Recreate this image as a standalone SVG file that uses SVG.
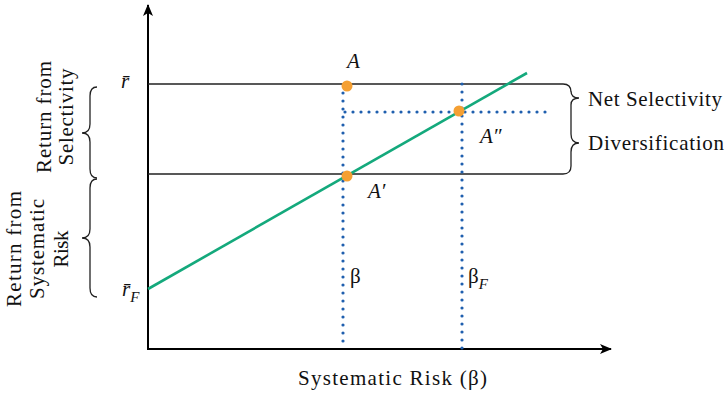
<svg xmlns="http://www.w3.org/2000/svg" width="727" height="395" viewBox="0 0 727 395">
<style>
text{font-family:"Liberation Serif","Times New Roman",serif;font-size:21px;fill:#111}
.it{font-style:italic}
.thin{stroke:#222;stroke-width:1.3;fill:none}
.dot{stroke:#1f5fae;stroke-width:3.2;stroke-linecap:round;stroke-dasharray:0 8;fill:none}
.pt{fill:#f5a033}
.br{stroke:#222;stroke-width:1.3;fill:none}
</style>
<defs>
<marker id="ah" markerWidth="12" markerHeight="10" refX="11" refY="5" orient="auto" markerUnits="userSpaceOnUse">
<path d="M0,0 L12,5 L0,10 L3,5 Z" fill="#000"/>
</marker>
</defs>
<g id="connectors">
<line x1="148" y1="350" x2="148" y2="5" stroke="#000" stroke-width="2" marker-end="url(#ah)"/>
<line x1="147" y1="349" x2="611" y2="349" stroke="#000" stroke-width="2" marker-end="url(#ah)"/>
<path class="thin" d="M148,84 H563 Q571,84 571,92 V91 Q571,98 579,98 Q571,98 571,105 V104 Q571,112 571,112 V134 Q571,143 579,143 Q571,143 571,152 V166 Q571,174 563,174 H148"/>
<line x1="148" y1="289" x2="527" y2="73" stroke="#14a97c" stroke-width="2.6"/>
<line class="dot" x1="343" y1="93" x2="343" y2="349"/>
<line class="dot" x1="462" y1="84" x2="462" y2="349"/>
<line class="dot" x1="345" y1="112" x2="550" y2="112"/>
<path class="br" d="M97,87 Q90,87 90,96 V124 Q90,133 82,133 Q90,133 90,142 V169 Q90,178 97,178"/>
<path class="br" d="M97,179 Q90,179 90,188 V229 Q90,238 82,238 Q90,238 90,247 V288 Q90,297 97,297"/>
</g>
<g id="A"><circle class="pt" cx="347" cy="86" r="5.5"/><text class="it" x="347" y="68">A</text></g>
<g id="A1"><circle class="pt" cx="347" cy="176" r="5.5"/><text class="it" x="368" y="198">A′</text></g>
<g id="A2"><circle class="pt" cx="459" cy="111" r="5.5"/><text class="it" x="480" y="143">A″</text></g>
<g id="labels">
<text x="350" y="283">β</text>
<text x="468" y="283">β<tspan class="it" font-size="15" dy="6">F</tspan></text>
<text class="it" x="121" y="88">r̄</text>
<text class="it" x="122" y="296">r̄<tspan font-size="15" dy="6">F</tspan></text>
<text x="588" y="106" textLength="134">Net Selectivity</text>
<text x="588" y="150" textLength="136">Diversification</text>
<text x="298" y="385" textLength="189">Systematic Risk (β)</text>
<text transform="translate(51,117) rotate(-90)" text-anchor="middle" textLength="112">Return from</text>
<text transform="translate(73,117) rotate(-90)" text-anchor="middle" textLength="97">Selectivity</text>
<text transform="translate(21,249) rotate(-90)" text-anchor="middle" textLength="116">Return from</text>
<text transform="translate(44,249) rotate(-90)" text-anchor="middle" textLength="100">Systematic</text>
<text transform="translate(68,249) rotate(-90)" text-anchor="middle" textLength="37">Risk</text>
</g>
</svg>
